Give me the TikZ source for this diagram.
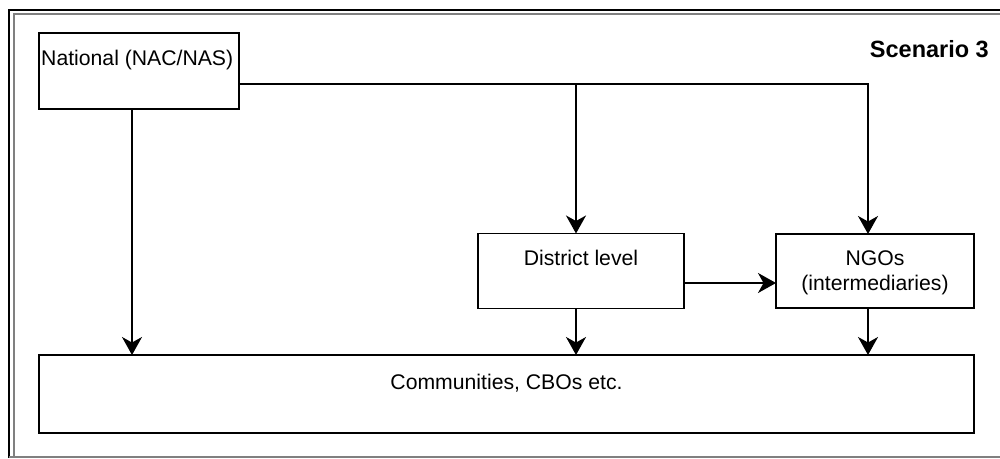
\documentclass[tikz,border=0pt]{standalone}
\usepackage{fontspec}
\setmainfont{Liberation Sans}
\usetikzlibrary{arrows.meta}
\begin{document}
\begin{tikzpicture}[x=1pt,y=-1pt,
  box/.style={draw=black, line width=1.8pt, fill=white, inner sep=0pt, outer sep=0pt},
  lbl/.style={inner sep=0pt, font=\fontsize{21.2}{25}\selectfont},
  arr/.style={draw=black, line width=1.8pt,
    -{Stealth[length=18pt, width=20pt, inset=5.5pt]}},
  conn/.style={draw=black, line width=1.8pt}]
\useasboundingbox (0,0) rectangle (1000,458);
\fill[white] (0,0) rectangle (1000,458);

% frame
\draw[black, line width=2pt] (9,458) -- (9,9.5) -- (1000,9.5);
\draw[gray, line width=1.6pt] (14,457) -- (14,14) -- (1000,14);
\draw[gray, line width=1.6pt] (9,457) -- (1000,457);

% boxes
\node[box, minimum width=200pt, minimum height=76pt] (nat) at (139,71) {};
\node[box, minimum width=206pt, minimum height=75pt] (dist) at (581,271) {};
\node[box, minimum width=198pt, minimum height=74pt] (ngo) at (875,271) {};
\node[box, minimum width=935pt, minimum height=78pt] (comm) at (506.5,394) {};

% texts
\node[lbl, anchor=base west] (natlbl) at (41,65) {National (NAC/NAS)};
\node[lbl, anchor=base] (distlbl) at (581,265) {District level};
\node[lbl, anchor=base] (ngolbl) at (875,265) {NGOs};
\node[lbl, anchor=base] (ngolbl2) at (875,290) {(intermediaries)};
\node[lbl, anchor=base] (commlbl) at (506.5,389) {Communities, CBOs etc.};
\node[inner sep=0pt, anchor=base east, font=\fontsize{23.5}{28}\selectfont\bfseries] (title) at (989,57) {Scenario 3};

% connector guide points
\coordinate (split) at (576,84);
\coordinate (ngox) at (868,0);
\coordinate (natx) at (132,0);
\coordinate (hy) at (0,283);

% connectors
\draw[arr] (nat.east |- split) -| (ngo.north -| ngox);
\draw[arr] (split) -- (dist.north -| split);
\draw[arr] (dist.east |- hy) -- (ngo.west |- hy);
\draw[arr] (nat.south -| natx) -- (comm.north -| natx);
\draw[arr] (dist.south -| split) -- (comm.north -| split);
\draw[arr] (ngo.south -| ngox) -- (comm.north -| ngox);
\end{tikzpicture}
\end{document}
